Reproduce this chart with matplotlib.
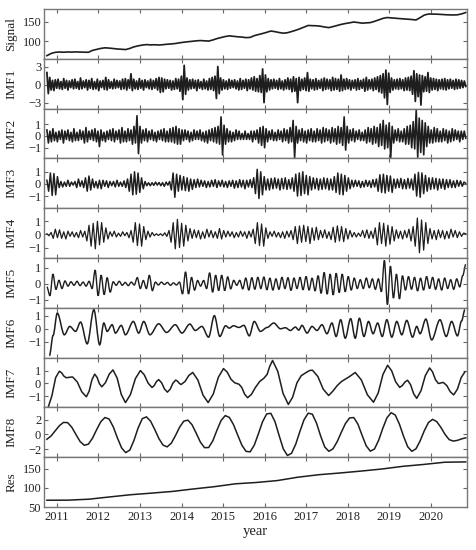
import numpy as np
import matplotlib
matplotlib.use("Agg")
import matplotlib.pyplot as plt
from matplotlib.path import Path
from matplotlib.patches import PathPatch

plt.rcParams['font.family'] = ['Liberation Serif', 'DejaVu Serif']
plt.rcParams['axes.unicode_minus'] = True

T0, T1 = 2010.76, 2020.84

signal = [63, 68.5, 71.5, 72.3, 71.8, 72.4, 72.1, 72.6, 72.2, 71.9,
          71.6, 76.5, 79, 81.5, 83, 82.3, 81.2, 80, 79.3, 78.6,
          81.5, 85.5, 88, 90, 91.2, 90.5, 90.8, 90.2, 91, 92.2,
          93, 94, 95.8, 97.3, 98.5, 99.6, 100.8, 101.5, 100.9, 100.2,
          103, 106.5, 109.2, 111.8, 113.5, 112.3, 111.2, 110.4, 109, 109.5,
          114, 116.8, 119.5, 122.5, 125.8, 124.2, 122, 120.3, 121.5, 124.5,
          127.8, 131.5, 135.8, 140, 139.5, 139.2, 138, 136, 134.5, 137.2,
          140, 142.8, 145, 146.8, 148.8, 147.5, 145.9, 146.6, 147.3, 150.5,
          154.2, 158, 160.2, 159.4, 158.5, 157.6, 156.8, 156, 155.2, 154,
          160, 166.5, 169.2, 169, 168.8, 168.2, 167.5, 167, 166.8, 167.2,
          169.5, 173]

imf1 = [2.0, -1.5, 1.2, -0.9, 0.7, -1.0, 0.8, -0.6, 0.9, -0.7, 0.5, -0.8, 1.0, -0.6, 0.7, -0.9, 0.6, -0.5, 0.8, -0.7,
        0.9, -0.6, 0.5, -0.8, 1.1, -0.7, 0.6, -0.5, 0.8, -0.9, 0.7, -0.6, 1.0, -0.8, 0.5, -0.7, 0.9, -1.0, 0.6, -0.5,
        0.7, -0.8, 1.2, -0.9, 0.8, -0.6, 0.5, -0.7, 0.9, -0.6, 0.7, -0.5, 0.6, -0.8, 0.9, -0.7, 1.0, -0.9, 0.8, -0.6,
        1.8, -1.0, 0.9, -0.7, 0.6, -0.8, 1.0, -0.6, 0.7, -0.9, 0.8, -0.5, 0.6, -0.7, 0.9, -0.8, 0.7, -0.6, 1.0, -0.9,
        1.2, -1.3, 1.1, -1.2, 0.9, -0.7, 0.8, -0.6, 0.7, -0.9, 0.6, -0.8, 1.0, -0.7, 0.9, -1.1, 1.4, -2.5, 3.2, -1.6,
        1.1, -0.9, 0.8, -0.7, 0.9, -0.6, 0.7, -1.0, 0.8, -0.6, 0.5, -0.8, 0.9, -0.7, 0.6, -0.9, 1.0, -0.8, 1.2, -1.0,
        1.4, -2.3, 3.0, -1.5, 1.1, -0.9, 0.8, -0.7, 0.6, -0.8, 0.9, -0.6, 0.7, -0.5, 0.8, -0.7, 0.6, -0.9, 1.0, -0.8,
        0.7, -0.6, 0.9, -1.0, 0.8, -0.7, 1.1, -0.9, 1.3, -1.1, 1.0, -1.2, 1.5, -1.3, 2.6, -3.0, 1.6, -1.2, 1.0, -0.9,
        0.8, -0.7, 0.9, -0.6, 0.7, -0.8, 1.0, -0.7, 0.6, -0.9, 0.8, -0.7, 1.1, -0.8, 0.9, -1.2, 1.3, -1.1, 1.0, -3.0,
        1.2, -1.0, 0.9, -0.8, 1.1, -1.0, 2.0, -1.1, 0.9, -0.7, 0.8, -0.9, 1.0, -0.8, 0.7, -0.6, 0.9, -1.0, 1.1, -0.8,
        0.9, -0.7, 0.8, -1.0, 1.2, -0.9, 1.0, -0.8, 0.9, -1.1, 1.6, -1.0, 0.9, -0.8, 1.0, -0.7, 0.8, -0.9, 0.7, -0.6,
        0.8, -0.9, 1.0, -0.8, 0.7, -0.6, 0.9, -1.1, 1.2, -0.9, 0.8, -0.7, 0.9, -1.0, 1.1, -0.8, 1.3, -1.2, 1.5, -1.4,
        1.8, -2.2, 2.4, -3.3, 1.9, -1.3, 1.1, -0.9, 0.8, -0.7, 0.9, -0.8, 1.0, -0.7, 0.8, -1.0, 1.1, -0.9, 1.2, -1.0,
        1.4, -1.6, 2.3, -2.8, 1.8, -2.0, 1.6, -3.4, 1.5, -1.2, 1.3, -1.1, 2.0, -1.3, 1.1, -0.9, 1.0, -0.8, 0.9, -1.0,
        0.8, -0.7, 0.9, -0.8, 1.0, -0.9, 0.8, -0.7, 0.9, -0.6, 0.7, -0.8, 0.9, -0.7, 0.8, -0.6, 0.7, -0.5, 0.6, -0.3]

imf2 = [0.5, -0.6, 0.4, -0.5, 0.6, -0.4, 0.3, -0.5, 0.4, -0.3, 0.5, -0.6, 0.4, -0.3, 0.5, -0.4, 0.3, -0.5, 0.6, -0.4,
        0.3, -0.4, 0.5, -0.3, 0.4, -0.6, 0.7, -0.5, 0.4, -0.3, 0.5, -0.4, 0.6, -0.5, 0.4, -0.9, 0.5, -0.4, 0.3, -0.5,
        0.4, -0.3, 0.5, -0.4, 0.6, -0.5, 0.4, -0.3, 0.5, -0.6, 0.7, -0.5, 0.4, -0.5, 0.6, -0.4, 0.5, -0.7, 0.8, -0.6,
        1.7, -1.5, 0.8, -0.6, 0.5, -0.4, 0.6, -0.5, 0.4, -0.3, 0.5, -0.4, 0.3, -0.5, 0.4, -0.3, 0.5, -0.4, 0.6, -0.5,
        0.4, -0.5, 0.6, -0.5, 0.7, -0.6, 0.8, -0.7, 0.6, -0.7, 0.5, -0.4, 0.5, -0.3, 0.4, -0.5, 0.3, -0.4, 0.5, -0.3,
        0.4, -0.3, 0.5, -0.4, 0.3, -0.5, 0.4, -0.6, 0.5, -0.4, 0.6, -0.5, 0.7, -0.6, 0.8, -0.7, 1.6, -1.6, 0.9, -0.7,
        0.6, -0.5, 0.4, -0.5, 0.3, -0.4, 0.5, -0.3, 0.4, -0.3, 0.2, -0.3, 0.4, -0.3, 0.2, -0.3, 0.4, -0.5, 0.4, -0.3,
        0.5, -0.6, 0.7, -0.8, 0.8, -1.0, 0.6, -0.5, 0.4, -0.3, 0.5, -0.4, 0.3, -0.4, 0.5, -0.3, 0.4, -0.5, 0.6, -0.4,
        0.5, -0.6, 0.7, -0.5, 1.3, -1.85, 0.8, -0.6, 0.5, -0.4, 0.6, -0.5, 0.4, -0.6, 0.5, -0.4, 0.6, -0.5, 0.4, -0.5,
        0.6, -0.4, 0.5, -0.6, 0.7, -0.5, 0.6, -0.4, 0.5, -0.6, 0.7, -0.5, 0.6, -0.7, 0.8, -0.6, 0.7, -0.8, 1.6, -1.2,
        0.8, -0.6, 0.5, -0.4, 0.6, -0.5, 0.4, -0.3, 0.5, -0.4, 0.3, -0.4, 0.5, -0.6, 0.7, -0.5, 0.6, -0.7, 0.8, -0.6,
        0.7, -0.9, 1.0, -0.8, 1.3, -1.1, 0.9, -1.0, 1.1, -1.9, 0.8, -0.6, 0.5, -0.4, 0.6, -0.5, 0.4, -0.5, 0.6, -0.7,
        0.8, -0.7, 0.9, -1.0, 1.2, -1.1, 2.2, -1.8, 1.5, -1.4, 1.3, -1.6, 1.1, -0.9, 0.8, -0.6, 0.5, -0.6, 0.7, -0.5,
        0.6, -0.5, 0.4, -0.5, 0.6, -0.4, 0.5, -0.6, 0.4, -0.5, 0.6, -0.4, 0.5, -0.3, 0.4, -0.5, 0.4, -0.3, 0.4, -0.2]

imf3 = [0.3, -0.6, 0.9, -0.95, 0.85, -0.9, 0.6, -0.3, 0.2, -0.25, 0.15, -0.2, 0.3, -0.2, 0.15, -0.1, 0.2, -0.3, 0.4, -0.2,
        0.25, -0.3, 0.5, -0.6, 0.65, -0.5, 0.4, -0.3, 0.2, -0.35, 0.3, -0.4, 0.3, -0.2, 0.25, -0.3, 0.2, -0.15, 0.2, -0.25,
        0.3, -0.2, 0.15, -0.2, 0.25, -0.3, 0.4, -0.6, 0.8, -0.9, 1.0, -0.85, 0.9, -0.7, 0.5, -0.4, 0.2, -0.15, 0.1, -0.15,
        0.1, -0.12, 0.15, -0.1, 0.12, -0.15, 0.1, -0.2, 0.15, -0.1, 0.2, -0.5, 0.9, -1.1, 0.8, -0.6, 0.7, -0.5, 0.6, -0.55,
        0.5, -0.6, 0.4, -0.45, 0.35, -0.3, 0.4, -0.25, 0.3, -0.2, 0.25, -0.3, 0.2, -0.25, 0.3, -0.2, 0.35, -0.3, 0.25, -0.2,
        0.3, -0.25, 0.2, -0.3, 0.25, -0.2, 0.3, -0.35, 0.25, -0.3, 0.35, -0.25, 0.3, -0.4, 0.3, -0.25, 0.35, -0.3, 0.5, -0.8,
        1.2, -1.2, 1.0, -0.9, 0.6, -0.5, 0.4, -0.5, 0.45, -0.4, 0.5, -0.35, 0.4, -0.5, 0.45, -0.4, 0.5, -0.45, 0.35, -0.4,
        0.5, -0.6, 0.8, -1.0, 0.9, -0.95, 1.0, -0.8, 0.7, -0.9, 0.6, -0.5, 0.5, -0.4, 0.45, -0.5, 0.4, -0.45, 0.5, -0.4,
        0.45, -0.5, 0.4, -0.5, 0.6, -0.7, 0.9, -0.85, 0.8, -0.9, 0.7, -0.6, 0.5, -0.4, 0.3, -0.25, 0.3, -0.2, 0.25, -0.3,
        0.2, -0.25, 0.3, -0.2, 0.25, -0.3, 0.35, -0.25, 0.4, -0.6, 0.75, -0.7, 0.8, -0.75, 0.7, -0.6, 0.65, -0.7, 0.4, -0.35,
        0.4, -0.3, 0.45, -0.4, 0.35, -0.4, 0.45, -0.35, 0.4, -0.5, 0.8, -1.0, 0.95, -1.1, 0.9, -0.8, 0.7, -0.6, 0.5, -0.45,
        0.5, -0.4, 0.45, -0.5, 0.4, -0.35, 0.4, -0.45, 0.35, -0.3, 0.35, -0.3, 0.25, -0.3, 0.3, -0.2, 0.25, -0.2, 0.15, 0.05]

imf4 = [0.05, -0.1, 0.15, -0.3, 0.4, -0.25, 0.35, -0.3, 0.2, -0.35, 0.25, -0.15, 0.2, -0.2, 0.15, -0.25, 0.3, -0.2, 0.25, -0.5,
        0.7, -0.9, 0.85, -1.1, 1.0, -0.8, 0.9, -0.6, 0.5, -0.35, 0.2, -0.15, 0.25, -0.2, 0.1, -0.15, 0.2, -0.1, 0.15, -0.25,
        0.3, -0.6, 0.9, -0.85, 0.8, -0.9, 0.6, -0.4, 0.25, -0.2, 0.15, -0.1, 0.05, -0.08, 0.05, -0.1, 0.12, -0.15, 0.3, -0.6,
        0.9, -1.1, 1.15, -1.0, 0.85, -0.9, 0.7, -0.5, 0.45, -0.3, 0.35, -0.25, 0.3, -0.35, 0.2, -0.3, 0.4, -0.2, 0.3, -0.25,
        0.2, -0.3, 0.45, -0.35, 0.3, -0.2, 0.25, -0.15, 0.2, -0.25, 0.15, -0.2, 0.25, -0.15, 0.2, -0.3, 0.25, -0.2, 0.4, -0.7,
        0.9, -0.85, 0.8, -0.9, 0.5, -0.3, 0.2, -0.15, 0.25, -0.2, 0.15, -0.25, 0.2, -0.3, 0.25, -0.2, 0.3, -0.4, 0.6, -0.7,
        0.65, -0.6, 0.7, -0.55, 0.6, -0.7, 0.5, -0.45, 0.55, -0.4, 0.3, -0.25, 0.35, -0.3, 0.2, -0.4, 0.55, -0.6, 0.65, -0.5,
        0.6, -0.55, 0.45, -0.35, 0.3, -0.2, 0.15, -0.2, 0.1, -0.15, 0.3, -0.25, 0.35, -0.3, 0.25, -0.3, 0.5, -0.8, 0.9, -0.7,
        0.85, -0.9, 0.7, -0.75, 0.6, -0.5, 0.35, -0.3, 0.25, -0.35, 0.3, -0.25, 0.4, -0.5, 0.6, -0.9, 1.25, -1.4, 1.1, -1.2,
        0.9, -0.7, 0.45, -0.35, 0.3, -0.4, 0.35, -0.25, 0.3, -0.35, 0.25, -0.3, 0.4, -0.2, 0.3, -0.25, 0.2, -0.15, 0.1, 0.05]

imf5 = [-0.2, -0.75, 0.6, -0.36, 0.21, -0.3, 0.17, -0.15, 0.12, -0.1,
        0.15, -0.12, 0.1, -0.15, 0.15, -0.3, 0.85, -0.75, 0.53, -0.68,
        0.38, -0.53, 0.12, -0.1, 0.15, -0.1, 0.08, -0.12, 0.1, -0.08,
        0.38, -0.3, 0.2, -0.3, 0.53, -0.43, 0.1, -0.08, 0.1, -0.05,
        0.08, -0.1, 0.05, -0.08, 0.1, -0.64, 0.74, -0.64, 0.4, -0.4,
        0.2, -0.15, 0.2, -0.3, 0.68, -0.53, 0.53, -0.43, 0.53, -0.43,
        0.43, -0.32, 0.21, -0.1, 0.21, -0.32, 0.35, -0.4, 0.38, -0.35,
        0.4, -0.3, 0.42, -0.38, 0.35, -0.4, 0.3, -0.35, 0.4, -0.3,
        0.38, -0.42, 0.35, -0.3, 0.4, -0.38, 0.45, -0.4, 0.35, -0.45,
        0.5, -0.6, 0.7, -0.65, 0.6, -0.7, 0.65, -0.55, 0.6, -0.5,
        0.45, -0.4, 0.35, -0.3, 0.25, -0.3, 0.35, -0.25, 0.3, -0.35,
        0.3, -0.5, 1.45, -1.3, 1.1, -0.9, 0.6, -0.95, 0.5, -0.4,
        0.45, -0.35, 0.4, -0.45, 0.35, -0.4, 0.45, -0.3, 0.4, -0.35,
        0.3, -0.4, 0.35, -0.3, 0.25, -0.35, 0.3, -0.2, 0.5, 1.2]

imf6_t = [2010.82, 2010.91, 2011.01, 2011.18, 2011.31, 2011.45, 2011.57, 2011.73, 2011.89, 2012.03,
          2012.13, 2012.21, 2012.33, 2012.41, 2012.55, 2012.65, 2012.84, 2012.97, 2013.09, 2013.24,
          2013.45, 2013.64, 2013.85, 2014.01, 2014.20, 2014.33, 2014.49, 2014.65, 2014.79, 2014.92,
          2015.06, 2015.15, 2015.25, 2015.38, 2015.50, 2015.63, 2015.75, 2015.90, 2016.06, 2016.22,
          2016.38, 2016.50, 2016.62, 2016.74, 2016.82, 2016.90, 2017.02, 2017.14, 2017.26, 2017.38,
          2017.50, 2017.62, 2017.72, 2017.83, 2017.94, 2018.07, 2018.18, 2018.28, 2018.39, 2018.50,
          2018.61, 2018.72, 2018.83, 2018.94, 2019.06, 2019.18, 2019.30, 2019.42, 2019.56, 2019.66,
          2019.74, 2019.88, 2020.02, 2020.22, 2020.37, 2020.50, 2020.64, 2020.74, 2020.82]
imf6_v = [-2.05, -0.5, 1.2, -0.46, 0.18, -0.2, 0.51, -1.15, 1.46, -1.23,
          0.44, -0.2, 0.31, -0.33, 0.26, -0.46, 0.56, -0.33, 0.56, -0.46,
          0.38, -0.28, 0.31, -0.33, 0.36, -0.13, 0.18, -0.64, 1.0, -0.59,
          0.23, 0.05, 0.23, 0.1, 0.26, -0.54, 0.56, -0.2, 0.1, 0.44,
          0.0, 0.08, -0.13, 0.13, -0.1, 0.26, -0.33, 0.18, -0.13, 0.31,
          -0.38, 0.44, -0.59, 0.69, -0.72, 0.77, -0.72, 0.8, -0.59, 0.56,
          -0.38, 0.44, -0.59, 0.69, -0.64, 0.56, -0.46, 0.64, -0.64, 0.18,
          -0.38, 0.74, -0.85, 0.69, -0.59, 0.56, -0.54, 0.6, 1.46]

imf7_t = [2010.79, 2010.88, 2010.97, 2011.06, 2011.113, 2011.167, 2011.22, 2011.273, 2011.327, 2011.38,
          2011.49, 2011.60, 2011.71, 2011.777, 2011.843, 2011.91, 2011.967, 2012.023, 2012.08, 2012.17,
          2012.26, 2012.35, 2012.45, 2012.55, 2012.65, 2012.77, 2012.89, 2013.01, 2013.103, 2013.197,
          2013.29, 2013.343, 2013.397, 2013.45, 2013.52, 2013.59, 2013.66, 2013.727, 2013.793, 2013.86,
          2013.903, 2013.947, 2013.99, 2014.083, 2014.177, 2014.27, 2014.393, 2014.517, 2014.64, 2014.763,
          2014.887, 2015.01, 2015.10, 2015.19, 2015.28, 2015.313, 2015.347, 2015.38, 2015.45, 2015.52,
          2015.59, 2015.68, 2015.78, 2015.88, 2015.98, 2016.06, 2016.12, 2016.19, 2016.317, 2016.443,
          2016.57, 2016.673, 2016.777, 2016.88, 2017.0, 2017.08, 2017.15, 2017.28, 2017.41, 2017.54,
          2017.64, 2017.75, 2017.85, 2017.95, 2018.05, 2018.18, 2018.327, 2018.473, 2018.62, 2018.733,
          2018.847, 2018.96, 2019.057, 2019.153, 2019.25, 2019.313, 2019.377, 2019.44, 2019.513, 2019.587,
          2019.66, 2019.763, 2019.867, 2019.97, 2020.04, 2020.11, 2020.18, 2020.22, 2020.26, 2020.30,
          2020.383, 2020.467, 2020.55, 2020.64, 2020.73, 2020.82]
imf7_v = [-1.85, -0.95, 0.45, 0.95, 0.825, 0.575, 0.45, 0.46, 0.49, 0.5,
          0.12, -0.65, -1.03, -0.59, 0.28, 0.72, 0.475, -0.015, -0.26, 0.07,
          0.72, 1.05, 0.42, -0.85, -1.48, -0.86, 0.38, 1.0, 0.67, 0.02,
          -0.31, -0.16, 0.15, 0.3, 0.06, -0.43, -0.67, -0.44, 0.03, 0.26,
          0.175, 0.005, -0.08, 0.15, 0.62, 0.85, 0.27, -0.9, -1.48, -0.82,
          0.49, 1.15, 0.875, 0.325, 0.05, 0.025, -0.025, -0.05, -0.31, -0.84,
          -1.1, -0.85, -0.3, 0.15, 0.4, 0.7, 1.3, 1.78, 0.93, -0.77,
          -1.62, -1.065, 0.045, 0.6, 0.85, 1.0, 1.03, 0.54, -0.44, -0.93,
          -0.6, -0.15, 0.15, 0.35, 0.55, 0.85, 0.275, -0.875, -1.45, -0.735,
          0.695, 1.41, 0.98, 0.13, -0.3, -0.16, 0.11, 0.25, -0.1, -0.8,
          -1.15, -0.56, 0.61, 1.2, 0.9, 0.3, 0.0, 0.02, 0.06, 0.08,
          -0.16, -0.64, -0.88, -0.435, 0.455, 0.9]

imf8 = [-0.65, -0.2, 0.5, 1.2, 1.65, 1.62, 0.99, 0.0, -0.96, -1.47,
        -1.32, -0.5, 0.67, 1.75, 2.32, 2.11, 1.05, -0.46, -1.82, -2.48,
        -2.12, -0.79, 0.9, 2.16, 2.41, 1.82, 0.69, -0.55, -1.45, -1.69,
        -1.18, -0.15, 1.0, 1.82, 1.96, 1.33, 0.18, -1.03, -1.8, -1.78,
        -0.87, 0.58, 1.91, 2.58, 2.33, 1.34, -0.07, -1.44, -2.3, -2.37,
        -1.46, 0.1, 1.74, 2.81, 2.89, 1.75, -0.15, -1.96, -2.87, -2.56,
        -1.32, 0.41, 2.01, 2.91, 2.78, 1.57, -0.19, -1.71, -2.3, -1.94,
        -0.97, 0.31, 1.51, 2.27, 2.31, 1.41, -0.11, -1.55, -2.28, -1.97,
        -0.78, 0.85, 2.28, 2.98, 2.66, 1.42, -0.24, -1.67, -2.3, -1.95,
        -0.87, 0.51, 1.63, 2.07, 1.76, 0.97, 0.02, -0.7, -0.9, -0.8,
        -0.6, -0.45]

res = [67.8, 68, 70.5, 76.5, 82.3, 86.5, 91, 97.5, 103.5, 111, 114.5,
       119.5, 128.5, 135, 139.5, 144.5, 150, 157, 162, 167.8, 168.6]

labels = ['Signal', 'IMF1', 'IMF2', 'IMF3', 'IMF4', 'IMF5', 'IMF6', 'IMF7', 'IMF8', 'Res']
yticks = [[100, 150], [-3, 0, 3], [-1, 0, 1], [-1, 0, 1], [-1, 0, 1], [-1, 0, 1],
          [-1, 0, 1], [-1, 0, 1], [-2, 0, 2], [50, 100, 150]]
ylims = [(55, 182), (-4.0, 4.3), (-1.9, 2.3), (-2.0, 2.1), (-1.8, 2.0), (-1.5, 1.6),
         (-2.2, 1.6), (-1.85, 2.0), (-3.1, 3.7), (50, 181)]
years = list(range(2011, 2021))

LINE_COLOR = '#1e1e1e'


def uniform_t(v):
    return np.linspace(T0, T1, len(v))


def add_smooth(ax, t, v, lw):
    """Draw a curve through the extrema (t, v) as cubic Bezier segments
    with flat tangents at every extremum (rendered by matplotlib's Path)."""
    t = np.asarray(t, float)
    v = np.asarray(v, float)
    verts = [(t[0], v[0])]
    codes = [Path.MOVETO]
    for i in range(len(t) - 1):
        dt = t[i + 1] - t[i]
        verts += [(t[i] + dt / 3, v[i]), (t[i + 1] - dt / 3, v[i + 1]), (t[i + 1], v[i + 1])]
        codes += [Path.CURVE4] * 3
    ax.add_patch(PathPatch(Path(verts, codes), fill=False, edgecolor=LINE_COLOR, lw=lw))


series = [
    ('line', uniform_t(signal), signal, 1.2),
    ('line', uniform_t(imf1), imf1, 1.3),
    ('line', uniform_t(imf2), imf2, 1.2),
    ('line', uniform_t(imf3), imf3, 1.1),
    ('line', uniform_t(imf4), imf4, 0.9),
    ('smooth', uniform_t(imf5), imf5, 1.0),
    ('smooth', imf6_t, imf6_v, 1.1),
    ('line', imf7_t, imf7_v, 1.1),
    ('line', uniform_t(imf8), imf8, 1.1),
    ('line', uniform_t(res), res, 1.1),
]

fig = plt.figure(figsize=(4.76, 5.5), dpi=100)
axes = fig.subplots(10, 1, sharex=True,
                    gridspec_kw=dict(hspace=0, left=44 / 476, right=467 / 476,
                                     top=1 - 9 / 550, bottom=1 - 507 / 550))

for ax, (kind, t, v, lw), lab, yt, yl in zip(axes, series, labels, yticks, ylims):
    if kind == 'line':
        ax.plot(t, v, color=LINE_COLOR, lw=lw)
    else:
        add_smooth(ax, t, v, lw)
    ax.set_ylim(*yl)
    ax.set_yticks(yt)
    ax.set_ylabel(lab, fontsize=9.5, color='#222222')
    ax.yaxis.set_label_coords(-0.063, 0.5)
    ax.tick_params(direction='in', top=True, right=True, length=3, width=0.8,
                   color='#666666', labelcolor='#222222', labelsize=9, pad=2)
    for s in ax.spines.values():
        s.set_color('#777777')
        s.set_linewidth(1.0)

axes[-1].set_xlim(2010.69, 2020.87)
axes[-1].set_xticks(years)
axes[-1].tick_params(axis='x', pad=3)
axes[-1].set_xlabel('year', fontsize=10.5, color='#222222', labelpad=1)

fig.savefig('out.png', dpi=100)
